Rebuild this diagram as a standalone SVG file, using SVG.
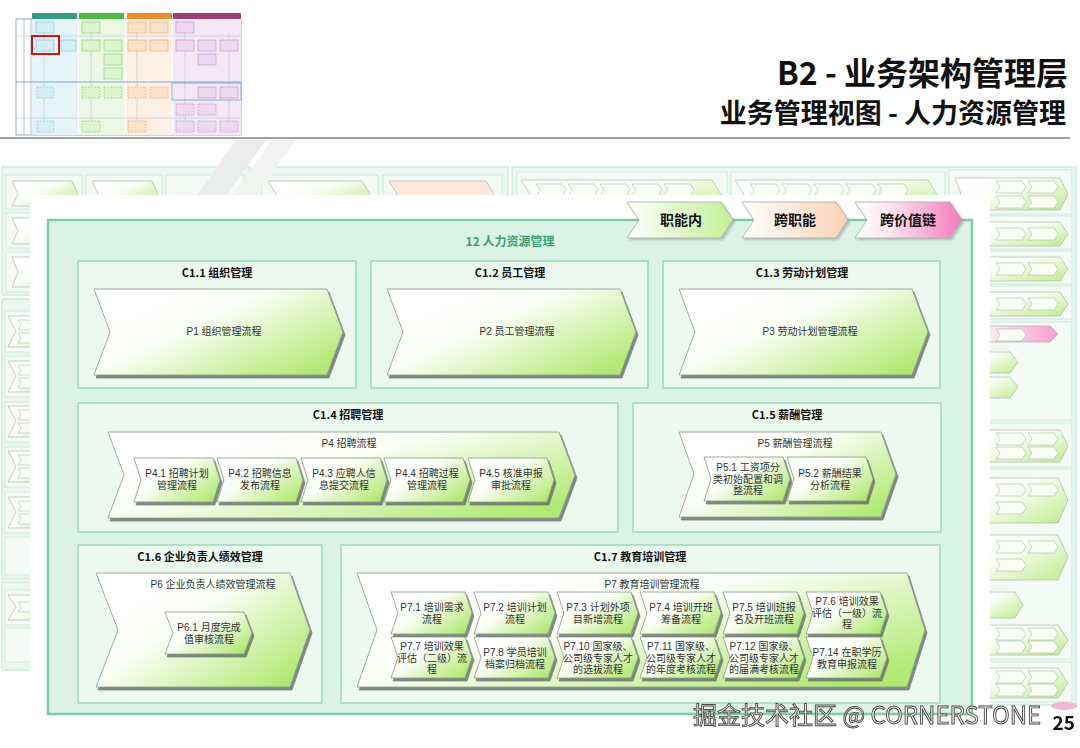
<svg xmlns="http://www.w3.org/2000/svg" width="1080" height="748" viewBox="0 0 1080 748">
<defs>
<style>
.t{font-family:"Noto Sans CJK SC","Noto Sans",sans-serif}
.cat{fill:#ebf9f1;stroke:#93d6b2;stroke-width:1.3}
.ch{fill:url(#gP);stroke:#8c968c;stroke-width:.8;filter:url(#ds)}
.ct{font-size:11px;font-weight:700;fill:#111;text-anchor:middle}
.pt{font-family:"Liberation Sans","Noto Sans CJK SC",sans-serif;font-size:10px;fill:#333;text-anchor:middle}
.bgp{fill:#e4f5ec;stroke:#9fd8ba;stroke-width:1}
.bgb{fill:#f0faf4;stroke:#b0dfc6;stroke-width:.8}
.bgc{fill:url(#gP);stroke:#7d8a7d;stroke-width:.6}
.bgk{fill:url(#gK);stroke:#8a7d85;stroke-width:.6}
.bgs{fill:#f7fdf0;stroke:#7d8a7d;stroke-width:.5}
.hd{stroke:#a8aca8;stroke-width:.8;filter:url(#ds2)}
.ht{font-size:14px;font-weight:700;fill:#111;text-anchor:middle}
.tdoc{stroke-width:.6}
</style>
<linearGradient id="gP" x1="0.2" y1="0.2" x2="1" y2="0.8">
<stop offset="0" stop-color="#ffffff"/>
<stop offset="0.3" stop-color="#fafef4"/>
<stop offset="1" stop-color="#b2e975"/>
</linearGradient>
<linearGradient id="gG" x1="0" y1="0" x2="1" y2="0">
<stop offset="0" stop-color="#ffffff"/>
<stop offset="1" stop-color="#c3f094"/>
</linearGradient>
<linearGradient id="gO" x1="0" y1="0" x2="1" y2="0">
<stop offset="0" stop-color="#ffffff"/>
<stop offset="1" stop-color="#fbd2b6"/>
</linearGradient>
<linearGradient id="gK" x1="0" y1="0" x2="1" y2="0">
<stop offset="0" stop-color="#ffffff"/>
<stop offset="0.3" stop-color="#fde8f2"/>
<stop offset="1" stop-color="#f27cbd"/>
</linearGradient>
<filter id="ds" x="-5%" y="-5%" width="115%" height="125%">
<feGaussianBlur in="SourceAlpha" stdDeviation="0.7"/>
<feOffset dx="2" dy="2.5" result="o"/>
<feFlood flood-color="#56665a" flood-opacity="0.75"/>
<feComposite in2="o" operator="in"/>
<feMerge><feMergeNode/><feMergeNode in="SourceGraphic"/></feMerge>
</filter>
<filter id="ds2" x="-5%" y="-10%" width="115%" height="130%">
<feGaussianBlur in="SourceAlpha" stdDeviation="1"/>
<feOffset dx="1.5" dy="2" result="o"/>
<feFlood flood-color="#8a948c" flood-opacity="0.5"/>
<feComposite in2="o" operator="in"/>
<feMerge><feMergeNode/><feMergeNode in="SourceGraphic"/></feMerge>
</filter>
<polygon id="sc" points="0,0 26,0 30,6 26,12 0,12 4,6"/>
<polygon id="sc2" points="0,0 24,0 27,5 24,10 0,10 3,5"/>
</defs>

<rect x="0" y="0" width="1080" height="748" fill="#ffffff"/>

<!-- thumbnail -->
<g id="thumbnail">
<rect x="16" y="19" width="225" height="116" fill="#ffffff" stroke="#8895a8" stroke-width=".8"/>
<rect x="32" y="19" width="46" height="116" fill="#e6f4fa"/>
<rect x="79" y="19" width="46" height="116" fill="#ebf8e5"/>
<rect x="126" y="19" width="46" height="116" fill="#fdf0e5"/>
<rect x="173" y="19" width="68" height="116" fill="#f4e8f5"/>
<rect x="32" y="13" width="45" height="6" rx="1" fill="#2f9d86"/>
<rect x="79" y="13" width="45" height="6" rx="1" fill="#4dbb3f"/>
<rect x="127" y="13" width="45" height="6" rx="1" fill="#ee8a2c"/>
<rect x="173" y="13" width="68" height="6" rx="1" fill="#9e3f78"/>
<line x1="16" y1="36" x2="241" y2="36" stroke="#b3c2d2" stroke-width=".6"/>
<line x1="16" y1="82" x2="241" y2="82" stroke="#6f9fd6" stroke-width=".9"/>
<line x1="16" y1="118" x2="241" y2="118" stroke="#b3c2d2" stroke-width=".6"/>
<line x1="24" y1="19" x2="24" y2="135" stroke="#8895a8" stroke-width=".6"/>
<line x1="31" y1="19" x2="31" y2="135" stroke="#8895a8" stroke-width=".6"/>
<g stroke="#b9c9c9" stroke-width=".6">
<line x1="44" y1="33" x2="44" y2="121"/><line x1="91" y1="33" x2="91" y2="121"/>
<line x1="137" y1="33" x2="137" y2="121"/><line x1="185" y1="33" x2="185" y2="121"/><line x1="229" y1="33" x2="229" y2="121"/>
</g>
<g class="tdoc" fill="#d5edf6" stroke="#7cc3d8">
<rect x="36" y="22" width="18" height="11"/><rect x="36" y="40" width="18" height="11"/><rect x="61" y="40" width="15" height="11"/>
<rect x="37" y="87" width="17" height="11" stroke-dasharray="2 1"/><rect x="37" y="121" width="17" height="11" stroke-dasharray="2 1"/>
</g>
<g class="tdoc" fill="#ddf4cf" stroke="#7fcf5f">
<rect x="82" y="22" width="18" height="11"/><rect x="82" y="40" width="18" height="11"/><rect x="104" y="40" width="18" height="11"/>
<rect x="104" y="54" width="18" height="11"/><rect x="104" y="68" width="18" height="11"/>
<rect x="82" y="87" width="18" height="11" stroke-dasharray="2 1"/><rect x="104" y="87" width="18" height="11" stroke-dasharray="2 1"/>
<rect x="82" y="121" width="18" height="11" stroke-dasharray="2 1"/>
</g>
<g class="tdoc" fill="#fde1c9" stroke="#f0a060">
<rect x="128" y="22" width="18" height="11"/><rect x="150" y="22" width="18" height="11"/>
<rect x="128" y="40" width="18" height="11"/><rect x="150" y="40" width="18" height="11"/>
<rect x="128" y="87" width="18" height="11" stroke-dasharray="2 1"/><rect x="150" y="87" width="18" height="11" stroke-dasharray="2 1"/>
<rect x="128" y="121" width="18" height="11" stroke-dasharray="2 1"/>
</g>
<g class="tdoc" fill="#ecd9ef" stroke="#c48ac8">
<rect x="176" y="22" width="18" height="11"/><rect x="176" y="40" width="18" height="11"/><rect x="198" y="40" width="18" height="11"/>
<rect x="220" y="40" width="18" height="11"/><rect x="198" y="54" width="18" height="11"/>
<rect x="198" y="87" width="18" height="11"/><rect x="220" y="87" width="18" height="11"/>
<rect x="176" y="104" width="18" height="11" stroke-dasharray="2 1"/><rect x="198" y="104" width="18" height="11" stroke-dasharray="2 1"/>
<rect x="176" y="121" width="18" height="11" stroke-dasharray="2 1"/><rect x="198" y="121" width="18" height="11" stroke-dasharray="2 1"/><rect x="220" y="121" width="18" height="11" stroke-dasharray="2 1"/>
</g>
<rect x="172" y="83" width="69" height="17" fill="none" stroke="#6f9fd6" stroke-width=".8"/>
<rect x="32" y="36" width="27" height="18" fill="none" stroke="#e01010" stroke-width="2"/>
</g>

<!-- title -->
<g id="title">
<text class="t" x="1068" y="85" font-size="32" font-weight="700" fill="#111" text-anchor="end">B2 - 业务架构管理层</text>
<text class="t" x="1066" y="123" font-size="27" font-weight="700" fill="#111" text-anchor="end">业务管理视图 - 人力资源管理</text>
<line x1="0" y1="138" x2="1070" y2="138" stroke="#a0a4a2" stroke-width="2"/>
</g>

<!-- faded background diagram -->
<g id="background" opacity="0.72">
<rect class="bgp" x="2" y="167" width="248" height="128"/>
<rect class="bgb" x="6" y="175" width="76" height="34"/>
<rect class="bgb" x="86" y="175" width="76" height="34"/>
<rect class="bgb" x="166" y="175" width="78" height="34"/>
<polygon class="bgc" points="12,181 72,181 78,194 72,206 12,206 18,194"/>
<polygon class="bgc" points="92,181 152,181 158,194 152,206 92,206 98,194"/>
<rect class="bgb" x="6" y="213" width="76" height="35"/>
<polygon class="bgc" points="12,218 72,218 78,231 72,244 12,244 18,231"/>
<rect class="bgb" x="6" y="252" width="76" height="40"/>
<polygon class="bgc" points="12,257 72,257 78,272 72,287 12,287 18,272"/>
<rect class="bgp" x="2" y="299" width="248" height="280"/>
<rect class="bgb" x="5" y="311" width="80" height="41"/>
<rect class="bgb" x="5" y="356" width="80" height="41"/>
<rect class="bgb" x="5" y="402" width="80" height="40"/>
<rect class="bgb" x="5" y="447" width="80" height="40"/>
<rect class="bgb" x="5" y="492" width="80" height="41"/>
<rect class="bgb" x="5" y="537" width="80" height="38"/>
<polygon class="bgc" points="8,316 70,316 78,331 70,347 8,347 16,331"/>
<polygon class="bgc" points="8,361 70,361 78,376 70,392 8,392 16,376"/>
<polygon class="bgc" points="8,406 70,406 78,421 70,437 8,437 16,421"/>
<polygon class="bgc" points="8,451 70,451 78,466 70,482 8,482 16,466"/>
<polygon class="bgc" points="8,497 70,497 78,512 70,528 8,528 16,512"/>
<g class="bgs">
<use href="#sc2" x="18" y="320"/><use href="#sc2" x="18" y="333"/>
<use href="#sc2" x="18" y="365"/><use href="#sc2" x="18" y="378"/>
<use href="#sc2" x="18" y="410"/><use href="#sc2" x="18" y="423"/>
<use href="#sc2" x="18" y="455"/><use href="#sc2" x="18" y="468"/>
<use href="#sc2" x="18" y="501"/><use href="#sc2" x="18" y="514"/>
</g>
<rect class="bgp" x="2" y="582" width="248" height="88"/>
<rect class="bgb" x="5" y="590" width="80" height="35"/>
<rect class="bgb" x="5" y="628" width="80" height="34"/>
<polygon class="bgc" points="8,595 70,595 78,607 70,620 8,620 16,607"/>
<g class="bgs"><use href="#sc2" x="18" y="602"/></g>

<rect class="bgp" x="256" y="167" width="252" height="130"/>
<rect class="bgb" x="262" y="175" width="116" height="40"/>
<rect class="bgb" x="383" y="175" width="119" height="40"/>
<polygon class="bgc" points="268,181 362,181 370,194 362,207 268,207 276,194"/>
<polygon fill="#fbe0cf" stroke="#8a7d75" stroke-width=".6" points="389,181 486,181 494,194 486,207 389,207 397,194"/>

<rect class="bgp" x="512" y="167" width="564" height="538"/>
<rect class="bgb" x="517" y="172" width="210" height="60"/>
<rect class="bgb" x="731" y="172" width="214" height="60"/>
<polygon class="bgc" points="521,180 712,180 722,196 712,212 521,212 531,196"/>
<polygon class="bgc" points="735,180 928,180 938,196 928,212 735,212 745,196"/>
<g class="bgs">
<use href="#sc" x="536" y="184"/><use href="#sc" x="568" y="184"/><use href="#sc" x="600" y="184"/><use href="#sc" x="632" y="184"/><use href="#sc" x="664" y="184"/>
<use href="#sc" x="750" y="184"/><use href="#sc" x="782" y="184"/><use href="#sc" x="814" y="184"/><use href="#sc" x="846" y="184"/><use href="#sc" x="878" y="184"/>
</g>
<rect class="bgb" x="949" y="170" width="123" height="44"/>
<rect class="bgb" x="949" y="216" width="123" height="33"/>
<rect class="bgb" x="949" y="251" width="123" height="33"/>
<rect class="bgb" x="949" y="286" width="123" height="33"/>
<rect class="bgb" x="949" y="322" width="123" height="98"/>
<rect class="bgb" x="949" y="423" width="123" height="44"/>
<rect class="bgb" x="949" y="469" width="123" height="190"/>
<rect class="bgb" x="949" y="662" width="123" height="40"/>
<polygon class="bgc" points="955,178 1060,178 1068,194 1060,210 955,210 961,194"/>
<polygon class="bgc" points="955,222 1060,222 1068,234 1060,246 955,246 961,234"/>
<polygon class="bgc" points="955,257 1060,257 1068,269 1060,281 955,281 961,269"/>
<polygon class="bgc" points="955,292 1060,292 1068,304 1060,316 955,316 961,304"/>
<polygon class="bgk" points="955,326 1050,326 1058,334 1050,342 955,342 961,334"/>
<polygon class="bgc" points="955,352 1010,352 1018,362 1010,373 955,373 961,362"/>
<polygon class="bgc" points="955,377 1010,377 1018,387 1010,398 955,398 961,387"/>
<polygon class="bgc" points="955,430 1060,430 1068,446 1060,462 955,462 961,446"/>
<polygon class="bgc" points="955,478 1058,478 1068,500 1058,523 955,523 961,500"/>
<polygon class="bgc" points="955,535 1058,535 1068,557 1058,580 955,580 961,557"/>
<polygon class="bgc" points="955,592 1015,592 1023,605 1015,618 955,618 961,605"/>
<polygon class="bgc" points="955,625 1058,625 1068,640 1058,655 955,655 961,640"/>
<polygon class="bgc" points="955,668 1058,668 1068,683 1058,698 955,698 961,683"/>
<g class="bgs">
<use href="#sc" x="996" y="181"/><use href="#sc" x="1028" y="181"/><use href="#sc" x="996" y="196"/><use href="#sc" x="1028" y="196"/>
<use href="#sc" x="996" y="228"/><use href="#sc" x="1028" y="228"/>
<use href="#sc" x="996" y="263"/><use href="#sc" x="1028" y="263"/>
<use href="#sc" x="996" y="298"/><use href="#sc" x="1028" y="298"/>
<use href="#sc" x="996" y="329"/>
<use href="#sc" x="996" y="433"/><use href="#sc" x="1028" y="433"/><use href="#sc" x="996" y="447"/><use href="#sc" x="1028" y="447"/>
<use href="#sc" x="996" y="484"/><use href="#sc" x="1028" y="484"/><use href="#sc" x="996" y="502"/>
<use href="#sc" x="996" y="541"/><use href="#sc" x="1028" y="541"/><use href="#sc" x="996" y="559"/>
<use href="#sc" x="996" y="628"/><use href="#sc" x="1028" y="628"/><use href="#sc" x="996" y="641"/><use href="#sc" x="1028" y="641"/>
<use href="#sc" x="996" y="671"/><use href="#sc" x="1028" y="671"/><use href="#sc" x="996" y="684"/><use href="#sc" x="1028" y="684"/>
</g>
<polygon fill="#e2e6e3" points="236,140 266,140 226,196 196,196"/>
<polygon fill="#eceeec" points="272,140 296,140 256,196 232,196"/>
</g>

<!-- main panel -->
<rect x="30" y="195" width="960" height="525" fill="#ffffff"/>
<rect id="frame" x="48" y="220" width="924" height="494" fill="#dcf4e7" stroke="#7ccfa5" stroke-width="2.5"/>

<g id="hdr-1">
<polygon class="hd" fill="url(#gG)" points="627,202 721,202 733,220 721,238 627,238 639,220"/>
<text class="t ht" x="681" y="225">职能内</text>
</g>
<g id="hdr-2">
<polygon class="hd" fill="url(#gO)" points="742,202 836,202 848,220 836,238 742,238 754,220"/>
<text class="t ht" x="795" y="225">跨职能</text>
</g>
<g id="hdr-3">
<polygon class="hd" fill="url(#gK)" points="855,202 950,202 962,220 950,238 855,238 867,220"/>
<text class="t ht" x="908" y="225">跨价值链</text>
</g>

<text id="frame-title" class="t" x="510" y="246" font-size="12" font-weight="700" fill="#3aa36f" text-anchor="middle">12 人力资源管理</text>

<!-- C1.1 -->
<g id="c1-1">
<rect class="cat" x="78" y="261" width="278" height="127"/>
<text class="t ct" x="217" y="277">C1.1 组织管理</text>
</g>
<g id="p1">
<polygon class="ch" points="94,289 327,289 343,332 327,375 94,375 110,332"/>
<text class="pt" x="224" y="335">P1 组织管理流程</text>
</g>
<!-- C1.2 -->
<g id="c1-2">
<rect class="cat" x="371" y="261" width="277" height="127"/>
<text class="t ct" x="510" y="277">C1.2 员工管理</text>
</g>
<g id="p2">
<polygon class="ch" points="387,289 620,289 636,332 620,375 387,375 403,332"/>
<text class="pt" x="517" y="335">P2 员工管理流程</text>
</g>
<!-- C1.3 -->
<g id="c1-3">
<rect class="cat" x="663" y="261" width="277" height="127"/>
<text class="t ct" x="802" y="277">C1.3 劳动计划管理</text>
</g>
<g id="p3">
<polygon class="ch" points="679,289 912,289 928,332 912,375 679,375 695,332"/>
<text class="pt" x="810" y="335">P3 劳动计划管理流程</text>
</g>

<!-- C1.4 -->
<g id="c1-4">
<rect class="cat" x="78" y="403" width="540" height="129"/>
<text class="t ct" x="348" y="419">C1.4 招聘管理</text>
</g>
<g id="p4">
<polygon class="ch" points="108,432 559,432 575,475 559,518 108,518 124,475"/>
<text class="pt" x="349" y="447">P4 招聘流程</text>
</g>
<g id="p4-1">
<polygon class="ch" points="134,458 213,458 220,480 213,502 134,502 141,480"/>
<text class="pt" x="177" y="477">P4.1 招聘计划<tspan x="177" dy="12">管理流程</tspan></text>
</g>
<g id="p4-2">
<polygon class="ch" points="217,458 296,458 303,480 296,502 217,502 224,480"/>
<text class="pt" x="260" y="477">P4.2 招聘信息<tspan x="260" dy="12">发布流程</tspan></text>
</g>
<g id="p4-3">
<polygon class="ch" points="301,458 380,458 387,480 380,502 301,502 308,480"/>
<text class="pt" x="344" y="477">P4.3 应聘人信<tspan x="344" dy="12">息提交流程</tspan></text>
</g>
<g id="p4-4">
<polygon class="ch" points="384,458 463,458 470,480 463,502 384,502 391,480"/>
<text class="pt" x="427" y="477">P4.4 招聘过程<tspan x="427" dy="12">管理流程</tspan></text>
</g>
<g id="p4-5">
<polygon class="ch" points="468,458 547,458 554,480 547,502 468,502 475,480"/>
<text class="pt" x="511" y="477">P4.5 核准申报<tspan x="511" dy="12">审批流程</tspan></text>
</g>

<!-- C1.5 -->
<g id="c1-5">
<rect class="cat" x="633" y="403" width="308" height="129"/>
<text class="t ct" x="787" y="419">C1.5 薪酬管理</text>
</g>
<g id="p5">
<polygon class="ch" points="679,432 881,432 896,474 881,517 679,517 694,474"/>
<text class="pt" x="795" y="447">P5 薪酬管理流程</text>
</g>
<g id="p5-1">
<polygon class="ch" points="704,457 783,457 790,479 783,501 704,501 711,479"/>
<text class="pt" x="748" y="471">P5.1 工资项分<tspan x="748" dy="11.6">类初始配置和调</tspan><tspan x="748" dy="11.6">整流程</tspan></text>
</g>
<g id="p5-2">
<polygon class="ch" points="787,457 866,457 873,479 866,501 787,501 794,479"/>
<text class="pt" x="830" y="477">P5.2 薪酬结果<tspan x="830" dy="12">分析流程</tspan></text>
</g>

<!-- C1.6 -->
<g id="c1-6">
<rect class="cat" x="78" y="545" width="244" height="158"/>
<text class="t ct" x="200" y="561">C1.6 企业负责人绩效管理</text>
</g>
<g id="p6">
<polygon class="ch" points="96,573 290,573 310,630 290,687 96,687 118,630"/>
<text class="pt" x="213" y="588">P6 企业负责人绩效管理流程</text>
</g>
<g id="p6-1">
<polygon class="ch" points="165,612 244,612 252,633 244,654 165,654 173,633"/>
<text class="pt" x="209" y="631">P6.1 月度完成<tspan x="209" dy="12">值审核流程</tspan></text>
</g>

<!-- C1.7 -->
<g id="c1-7">
<rect class="cat" x="341" y="545" width="599" height="158"/>
<text class="t ct" x="640" y="561">C1.7 教育培训管理</text>
</g>
<g id="p7">
<polygon class="ch" points="357,573 907,573 925,630 907,687 357,687 377,630"/>
<text class="pt" x="652" y="588">P7 教育培训管理流程</text>
</g>
<g id="p7-1">
<polygon class="ch" points="391,592 465,592 472,613 465,634 391,634 398,613"/>
<text class="pt" x="432" y="611">P7.1 培训需求<tspan x="432" dy="12">流程</tspan></text>
</g>
<g id="p7-2">
<polygon class="ch" points="474,592 548,592 555,613 548,634 474,634 481,613"/>
<text class="pt" x="515" y="611">P7.2 培训计划<tspan x="515" dy="12">流程</tspan></text>
</g>
<g id="p7-3">
<polygon class="ch" points="557,592 631,592 638,613 631,634 557,634 564,613"/>
<text class="pt" x="598" y="611">P7.3 计划外项<tspan x="598" dy="12">目新增流程</tspan></text>
</g>
<g id="p7-4">
<polygon class="ch" points="640,592 714,592 721,613 714,634 640,634 647,613"/>
<text class="pt" x="681" y="611">P7.4 培训开班<tspan x="681" dy="12">筹备流程</tspan></text>
</g>
<g id="p7-5">
<polygon class="ch" points="723,592 797,592 804,613 797,634 723,634 730,613"/>
<text class="pt" x="764" y="611">P7.5 培训班报<tspan x="764" dy="12">名及开班流程</tspan></text>
</g>
<g id="p7-6">
<polygon class="ch" points="806,592 880,592 887,613 880,634 806,634 813,613"/>
<text class="pt" x="847" y="605">P7.6 培训效果<tspan x="847" dy="11.6">评估（一级）流</tspan><tspan x="847" dy="11.6">程</tspan></text>
</g>
<g id="p7-7">
<polygon class="ch" points="391,637 465,637 472,657.5 465,678 391,678 398,657.5"/>
<text class="pt" x="432" y="650">P7.7 培训效果<tspan x="432" dy="11.6">评估（二级）流</tspan><tspan x="432" dy="11.6">程</tspan></text>
</g>
<g id="p7-8">
<polygon class="ch" points="474,637 548,637 555,657.5 548,678 474,678 481,657.5"/>
<text class="pt" x="515" y="656">P7.8 学员培训<tspan x="515" dy="12">档案归档流程</tspan></text>
</g>
<g id="p7-10">
<polygon class="ch" points="557,637 631,637 638,657.5 631,678 557,678 564,657.5"/>
<text class="pt" x="598" y="650">P7.10 国家级、<tspan x="598" dy="11.6">公司级专家人才</tspan><tspan x="598" dy="11.6">的选拔流程</tspan></text>
</g>
<g id="p7-11">
<polygon class="ch" points="640,637 714,637 721,657.5 714,678 640,678 647,657.5"/>
<text class="pt" x="681" y="650">P7.11 国家级、<tspan x="681" dy="11.6">公司级专家人才</tspan><tspan x="681" dy="11.6">的年度考核流程</tspan></text>
</g>
<g id="p7-12">
<polygon class="ch" points="723,637 797,637 804,657.5 797,678 723,678 730,657.5"/>
<text class="pt" x="764" y="650">P7.12 国家级、<tspan x="764" dy="11.6">公司级专家人才</tspan><tspan x="764" dy="11.6">的届满考核流程</tspan></text>
</g>
<g id="p7-14">
<polygon class="ch" points="806,637 880,637 887,657.5 880,678 806,678 813,657.5"/>
<text class="pt" x="847" y="656">P7.14 在职学历<tspan x="847" dy="12">教育申报流程</tspan></text>
</g>

<g id="connectors"></g>

<!-- footer -->
<g id="footer">
<ellipse cx="1064" cy="706" rx="13" ry="4" fill="#f2a8c8" opacity="0.8"/>
<text class="t" x="1075" y="730" font-size="19" font-weight="700" fill="#111" text-anchor="end">25</text>
<text class="t" x="693" y="724" font-size="24" fill="#f3f3f3" stroke="#4a4a4a" stroke-width="0.9">掘金技术社区 @ CORNERSTONE</text>
</g>
</svg>
